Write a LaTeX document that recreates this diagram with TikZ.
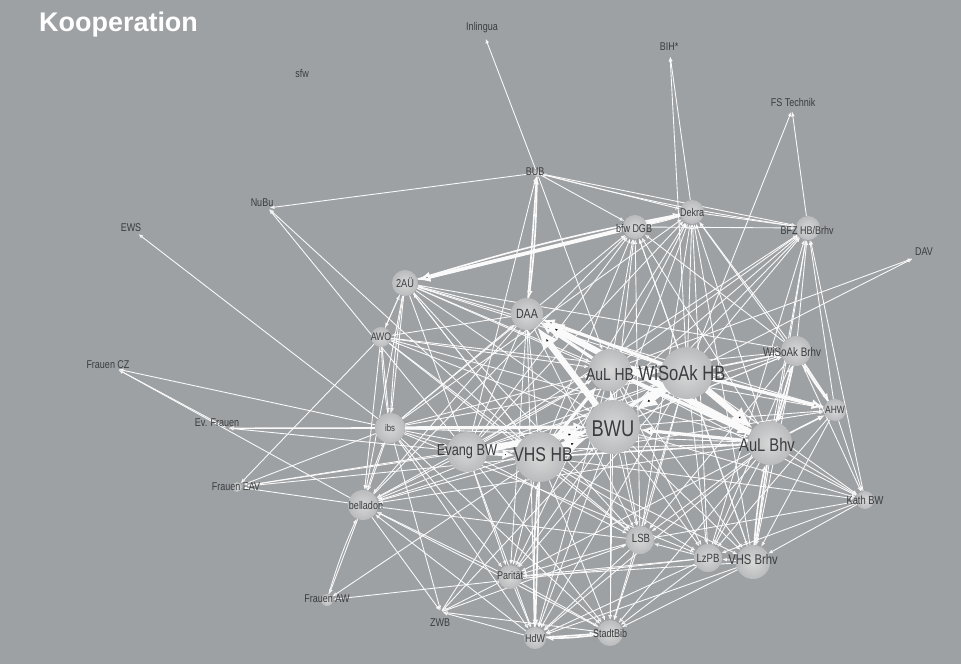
\documentclass[tikz,border=0pt]{standalone}
\usepackage{fontspec}
\setmainfont{Liberation Sans}
\newfontfamily\narrowsans{Liberation Sans}[FakeStretch=0.8]
\usetikzlibrary{arrows.meta}

\definecolor{bggray}{RGB}{158,161,164}
\definecolor{ballhi}{RGB}{216,216,216}
\definecolor{balllo}{RGB}{186,187,189}
\definecolor{labelgray}{RGB}{58,60,62}
\definecolor{linkwhite}{RGB}{250,250,250}

\pgfdeclarelayer{bg}
\pgfdeclarelayer{edges}
\pgfsetlayers{bg,edges,main}

\tikzset{
  >={Latex[length=1.6pt 3.2,width=1.3pt 2.6]},
  org/.style={circle,inner sep=0pt,minimum size=#1*0.06cm,shading=radial,inner color=ballhi,outer color=balllo},
  spot/.style={circle,inner sep=0pt,minimum size=0.09cm},
  lbl/.style={font=\narrowsans\fontsize{#1}{#1}\selectfont,text=labelgray,inner sep=0pt},
  lbl/.default=9.6,
  title/.style={font=\bfseries\fontsize{23}{23}\selectfont,text=white,inner sep=0pt},
  coop/.style={draw=linkwhite,->,line width=0.75pt},
  coop mid/.style={coop,line width=1.4pt},
  coop strong/.style={coop,line width=2.8pt},
  coop heavy/.style={coop,line width=5.5pt}
}

\begin{document}
\begin{tikzpicture}[x=0.03cm,y=-0.03cm]
        \useasboundingbox (0,0) rectangle (961,664);
        \begin{pgfonlayer}{bg}
            \fill[bggray] (0,0) rectangle (961,664);
        \end{pgfonlayer}

        \node[title,anchor=base west] (title) at (39,31) {Kooperation};

        % outer organisations
        \node[spot,label={[lbl,shift={(-3,-9)}]center:Inlingua}] (inl) at (485,37) {};
        \node[spot,label={[lbl,shift={(-1,-8)}]center:BIH*}] (bih) at (670,55) {};
        \node[spot,label={[lbl,shift={(1,-8)}]center:FS Technik}] (fst) at (792,110) {};
        \node[spot,label={[lbl]center:sfw}] (sfw) at (302,73) {};
        \node[spot,label={[lbl,shift={(-6,-5)}]center:NuBu}] (nubu) at (268,208) {};
        \node[spot,label={[lbl,shift={(-6,-5)}]center:EWS}] (ews) at (137,233) {};
        \node[spot,label={[lbl,shift={(10,-6)}]center:DAV}] (dav) at (914,258) {};
        \node[spot,label={[lbl,shift={(-9,-4)}]center:Frauen CZ}] (fcz) at (117,369) {};
        \node[spot,label={[lbl,shift={(-10,-5)}]center:Ev. Frauen}] (evf) at (227,428) {};
        \node[spot,label={[lbl,shift={(-1,11)}]center:ZWB}] (zwb) at (441,612) {};
        \node[org=5,label={[lbl,shift={(-1,0)}]center:Frauen EAV}] (feav) at (237,487) {};
        \node[org=6,label={[lbl,shift={(0,-1)}]center:Frauen AW}] (faw) at (327,600) {};

        % network
        \node[org=4,label={[lbl,shift={(-2,-1)}]center:BUB}] (bub) at (537,173) {};
        \node[org=12,label={[lbl]center:Dekra}] (dekra) at (692,212) {};
        \node[org=12,label={[lbl,shift={(-1,1)}]center:bfw DGB}] (bfw) at (635,227) {};
        \node[org=12,label={[lbl,shift={(-1,2)}]center:BFZ HB/Brhv}] (bfz) at (808,228) {};
        \node[org=13,label={[lbl=9.8]center:2AÜ}] (zau) at (405,283) {};
        \node[org=16,label={[lbl=11.4]center:DAA}] (daa) at (527,314) {};
        \node[org=10,label={[lbl=9.3]center:AWO}] (awo) at (381,337) {};
        \node[org=15,label={[lbl=10.5,shift={(-4,1)}]center:WiSoAk Brhv}] (wsb) at (796,351) {};
        \node[org=21,label={[lbl=14.8,shift={(0,5)}]center:AuL HB}] (aulhb) at (610,370) {};
        \node[org=26,label={[lbl=17.7,shift={(-5,0)}]center:WiSoAk HB}] (wshb) at (687,373) {};
        \node[org=11,label={[lbl=9]center:AHW}] (ahw) at (835,410) {};
        \node[org=15,label={[lbl=8.3]center:ibs}] (ibs) at (390,428) {};
        \node[org=27,label={[lbl=19.5,shift={(0,2)}]center:BWU}] (bwu) at (613,427) {};
        \node[org=20,label={[lbl=13.6]center:Evang BW}] (evbw) at (467,452) {};
        \node[org=25,label={[lbl=17,shift={(3,-2)}]center:VHS HB}] (vhshb) at (540,457) {};
        \node[org=22,label={[lbl=15.7,shift={(-3,2)}]center:AuL Bhv}] (aulbhv) at (770,443) {};
        \node[org=15,label={[lbl,shift={(3,0)}]center:belladon}] (bell) at (363,505) {};
        \node[org=9,label={[lbl=10]center:Kath BW}] (kath) at (865,500) {};
        \node[org=14,label={[lbl=10.2,shift={(1,-2)}]center:LSB}] (lsb) at (640,540) {};
        \node[org=14,label={[lbl=10.2]center:LzPB}] (lzpb) at (708,558) {};
        \node[org=17,label={[lbl=12,shift={(0,-3)}]center:VHS Brhv}] (vhsbr) at (753,562) {};
        \node[org=12,label={[lbl,shift={(0,-2)}]center:Parität}] (pantat) at (510,577) {};
        \node[org=11,label={[lbl]center:HdW}] (hdw) at (535,638) {};
        \node[org=13,label={[lbl]center:StadtBib}] (stadt) at (610,633) {};

        \begin{pgfonlayer}{edges}
        % outer ring
        \path[coop] (bub) edge (inl) (wshb) edge (bih) (dekra) edge (bih)
            (wshb) edge (fst) (bfz) edge (fst) (wshb) edge (dav) (aulhb) edge (dav)
            (ibs) edge (ews) (bub) edge (nubu) (evbw) edge (nubu) (vhshb) edge (nubu)
            (ibs) edge (fcz) (evf) edge (fcz) (bell) edge (fcz)
            (ibs) edge (evf) (evbw) edge (evf) (bwu) edge (evf)
            (awo) edge (feav) (bell) edge (feav) (ibs) edge (feav) (evbw) edge (feav) (vhshb) edge (feav) (bwu) edge (feav)
            (bell) edge (faw) (faw) edge[bend left=4] (bell) (lzpb) edge (faw) (vhshb) edge (faw)
            (ibs) edge (zwb) (bell) edge (zwb) (zwb) edge (vhshb) (zwb) edge (bwu) (zwb) edge (lsb) (pantat) edge (zwb);

        % upper group
        \path[coop] (bub) edge (bfz) edge (dekra) edge (bfw) edge (aulhb);
        \path[coop] (bfz) edge[bend left=3] (bub) (evbw) edge (bub);
        \path[coop mid] (daa) edge (bub) (bub) edge[bend left=3] (daa);
        \path[coop] (dekra) edge (bfz) (bfw) edge (bfz) (bfw) edge (dekra) (dekra) edge[bend left=4] (bfw) (bell) edge (bfw);
        \path[coop strong] (dekra) edge (zau) (bfw) edge (zau);
        \path[coop mid] (zau) edge[bend left=3] (dekra);

        % left group
        \path[coop] (zau) edge (ibs) (ibs) edge[bend left=3] (zau) (zau) edge (awo) (zau) edge (bell) (daa) edge (zau)
            (zau) edge (bwu) edge (aulhb) edge (wshb) edge (vhshb) edge (wsb) edge (ahw) edge (aulbhv) edge (evbw) edge (lsb);
        \path[coop] (vhshb) edge (daa) (daa) edge (awo) (ibs) edge (daa) (evbw) edge (daa)
            (daa) edge (bell) edge (pantat) edge (hdw) edge (lsb);
        \path[coop] (awo) edge (zau) edge (ibs) edge (bell) edge (bwu) edge (vhshb) edge (aulhb) edge (wshb) edge (lsb) edge (aulbhv);
        \path[coop] (ibs) edge[bend left=3] (awo) (bell) edge[bend left=3] (ibs);
        \path[coop] (ibs) edge (vhshb) edge (aulhb) edge (wshb) edge (aulbhv) edge (bell) edge (evbw) edge (pantat)
            edge (hdw) edge (stadt) edge (lzpb) edge (dekra) edge (bfw);
        \path[coop strong] (ibs) edge (bwu);

        % centre
        \path[coop] (evbw) edge (aulhb) edge (wshb) edge (aulbhv) edge (bell) edge (pantat) edge (hdw) edge (stadt)
            edge (lsb) edge (dekra) edge (bfw) edge (bfz) edge (wsb);
        \path[coop strong] (evbw) edge (vhshb);
        \path[coop] (vhshb) edge (bell) edge (pantat) edge (stadt) edge (lsb) edge (lzpb) edge (vhsbr) edge (kath)
            edge (ahw) edge (wsb) edge (bfz) edge (dekra) edge (bfw) edge (zau);
        \path[coop mid] (vhshb) edge (hdw) edge (aulbhv) (hdw) edge[bend left=3] (vhshb);
        \path[coop strong] (vhshb) edge (aulhb) edge (wshb);
        \path[coop] (bwu) edge (bell) edge (pantat) edge (hdw) edge (stadt) edge (lsb) edge (lzpb) edge (vhsbr)
            edge (kath) edge (ahw) edge (wsb) edge (bfz) edge (dekra) edge (bfw);
        \path[coop strong] (bwu) edge (aulhb) (aulbhv) edge (bwu);
        \path[coop] (aulhb) edge (bell) edge (pantat) edge (hdw) edge (stadt) edge (lsb) edge (lzpb) edge (vhsbr)
            edge (ahw) edge (wsb) edge (bfz) edge (dekra) edge (bfw) edge (kath);
        \path[coop strong] (aulhb) edge (wshb) edge (aulbhv) edge (daa);
        \path[coop] (wshb) edge (bell) edge (pantat) edge (hdw) edge (stadt) edge (lsb) edge (lzpb) edge (vhsbr)
            edge (kath) edge (bfz) edge (dekra) edge (bfw);
        \path[coop mid] (wshb) edge (wsb);
        \path[coop strong] (wshb) edge (ahw) edge (daa);
        \path[coop heavy] (bwu) edge (daa) (aulbhv) edge (daa) (evbw) edge (bwu) (vhshb) edge (bwu)
            (wshb) edge (bwu) (wshb) edge (aulbhv);

        % right group
        \path[coop] (aulbhv) edge (kath) edge (lzpb) edge (lsb) edge (stadt) edge (hdw) edge (pantat) edge (bell)
            edge (bfz) edge (dekra) edge (bfw);
        \path[coop mid] (aulbhv) edge (wsb) edge (ahw) edge (vhsbr)
            (wsb) edge[bend left=4] (aulbhv) (vhsbr) edge[bend left=4] (aulbhv);
        \path[coop] (wsb) edge (kath) edge (vhsbr) edge (lzpb) edge (bfz) edge (dekra) edge (bfw) edge (lsb)
            (ahw) edge (kath) edge (vhsbr) edge (bfz) edge (dekra) edge (lzpb)
            (kath) edge (vhsbr) edge (lzpb) edge (lsb) edge (bfz)
            (vhsbr) edge (lzpb) edge (stadt) edge (hdw) edge (pantat) edge (bfz) edge (dekra) edge (bfw);
        \path[coop mid] (wsb) edge (ahw) (ahw) edge[bend left=4] (wsb);

        % lower group
        \path[coop] (lzpb) edge (stadt) edge (hdw) edge (pantat) edge (lsb) edge (bfz) edge (dekra)
            (lsb) edge (stadt) edge (hdw) edge (pantat) edge (bell) edge (dekra) edge (bfw)
            (pantat) edge (hdw) edge (stadt) edge (bell)
            (hdw) edge (bell) edge (zwb) (stadt) edge (bell) edge (zwb);
        \path[coop mid] (hdw) edge (stadt) (stadt) edge[bend left=4] (hdw);
        \end{pgfonlayer}
\end{tikzpicture}
\end{document}
